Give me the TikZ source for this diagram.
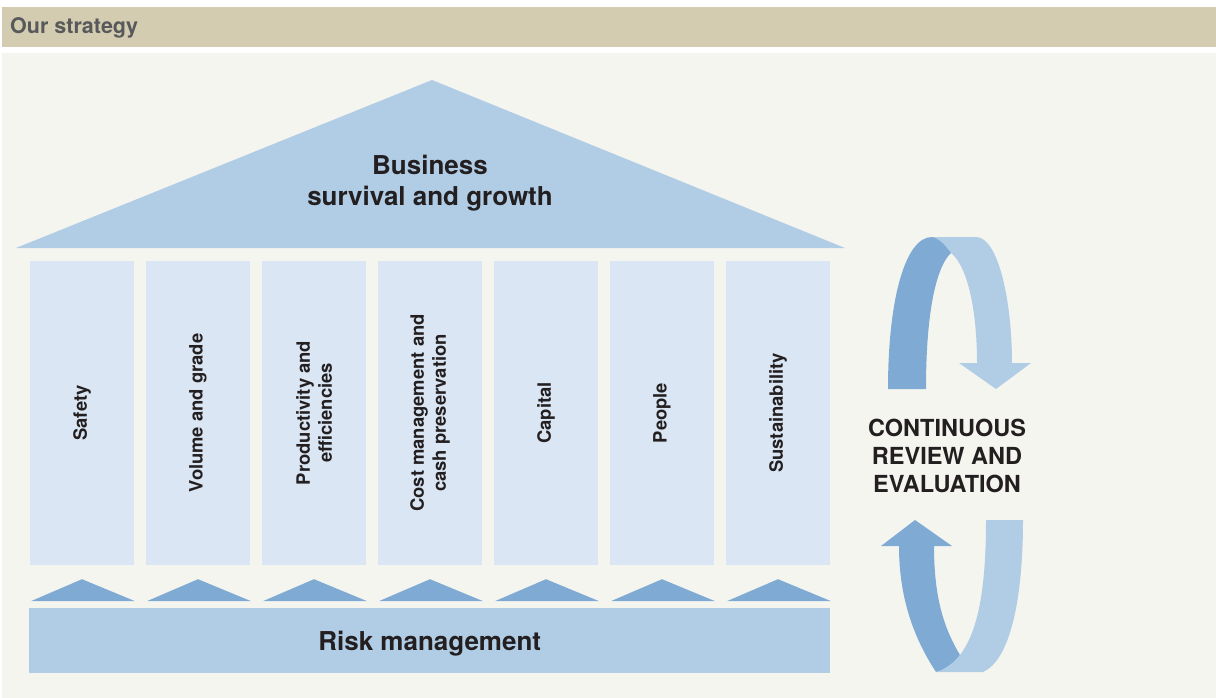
\documentclass[tikz,border=0pt]{standalone}
\usepackage{fontspec}
\setmainfont{TeX Gyre Heros}
\usetikzlibrary{calc}
\definecolor{hdr}{HTML}{D4CCB0}
\definecolor{hdrtext}{HTML}{58595B}
\definecolor{panel}{HTML}{F5F5F0}
\definecolor{roofc}{HTML}{B1CDE5}
\definecolor{pillarc}{HTML}{DAE6F3}
\definecolor{darkc}{HTML}{7FAAD4}
\definecolor{ink}{HTML}{231F20}
\tikzset{
  pillar/.style={fill=pillarc, draw=none, inner sep=0pt, minimum width=104pt, minimum height=304pt},
  ptext/.style={rotate=90, align=center, text=ink, font=\fontsize{18.4}{22}\selectfont\bfseries, inner sep=0pt},
  bigtext/.style={align=center, text=ink, font=\fontsize{26}{31}\selectfont\bfseries, inner sep=0pt},
  cyctext/.style={align=center, text=ink, font=\fontsize{23.5}{28}\selectfont\bfseries, inner sep=0pt},
  basetri/.style={fill=darkc, draw=none},
}
\begin{document}
\begin{tikzpicture}[x=1pt,y=-1pt]
\useasboundingbox (0,0) rectangle (1216,698);
\fill[white] (0,0) rectangle (1216,698);
% header
\node[fill=hdr, inner sep=0pt, minimum width=1214pt, minimum height=40pt, anchor=north west] (header) at (2,7) {};
\node[anchor=west, text=hdrtext, font=\fontsize{21.5}{25}\selectfont\bfseries, inner sep=0pt] (title) at (10,28) {Our strategy};
% panel
\node[fill=panel, inner sep=0pt, minimum width=1214pt, minimum height=645pt, anchor=north west] (panel) at (2,53) {};
% roof
\coordinate (apex) at (432,80);
\coordinate (roofl) at (16,248);
\coordinate (roofr) at (845,248);
\fill[roofc] (roofl) -- (apex) -- (roofr) -- cycle;
\node[bigtext] (roof) at (430,183) {Business\\survival and growth};
% pillars
\foreach \i/\t in {1/{Safety},2/{Volume and grade},3/{Productivity and\\efficiencies},4/{Cost management and\\cash preservation},5/{Capital},6/{People},7/{Sustainability}}{
  \node[pillar] (p\i) at ({82+116*(\i-1)},413) {};
  \node[ptext] (t\i) at (p\i.center) {\t};
  \fill[basetri] ($(p\i.south west)+(1,36)$) -- ($(p\i.south)+(0,14)$) -- ($(p\i.south east)+(1,36)$) -- cycle;
}
% risk management
\node[fill=roofc, inner sep=0pt, minimum width=801pt, minimum height=65pt, anchor=north west] (risk) at (29,608) {};
\node[bigtext] (risktext) at ($(risk.center)+(0,2.5)$) {Risk management};
% cycle text
\node[cyctext] (cycle) at (947,456) {CONTINUOUS\\REVIEW AND\\EVALUATION};
% top arrow
\fill[roofc] (932,237) -- (976,237) .. controls (998,237) and (1012,300) .. (1012,363) -- (1031,363) -- (996,389) -- (959,363) -- (977,363) .. controls (977,305) and (966,265) .. (951,253) .. controls (945,245) and (940,239) .. (932,237) -- cycle;
\fill[darkc] (888,389) -- (926,389) .. controls (926,305) and (938,265) .. (951,253) .. controls (945,245) and (940,239) .. (932,237) .. controls (905,237) and (888,300) .. (888,389) -- cycle;
% bottom arrow
\fill[darkc] (899,546) .. controls (899,600) and (915,640) .. (936,672) .. controls (945,670) and (955,662) .. (960,655) .. controls (945,630) and (934,600) .. (934,546) -- (952,546) -- (915,520) -- (881,546) -- cycle;
\fill[roofc] (936,672) -- (983,672) .. controls (1010,660) and (1023,600) .. (1023,520) -- (986,520) .. controls (986,600) and (975,635) .. (960,655) .. controls (955,662) and (945,670) .. (936,672) -- cycle;
\end{tikzpicture}
\end{document}
